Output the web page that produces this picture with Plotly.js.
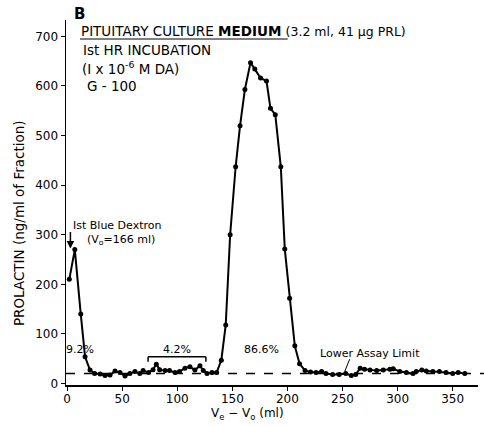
<!DOCTYPE html>
<html>
<head>
<meta charset="utf-8">
<script src="https://cdn.plot.ly/plotly-3.0.1.min.js"></script>
<style>html,body{margin:0;padding:0;background:#fff}#chart{width:484px;height:426px}</style>
</head>
<body>
<div id="chart"></div>
<script>
// Elution volume (Ve - Vo, ml)
const volume = [2, 7, 12.4, 16.3, 20.8, 25, 30, 34.4, 39, 43.5, 48, 52.6, 57, 61.6, 66, 69, 74, 78, 81, 84, 89, 93, 98, 102, 107, 111.5, 116, 120.6, 123.6, 127, 131.5, 135.7, 140, 144, 148, 153, 157, 161.4, 166.5, 170.4, 175.6, 181, 184.6, 189, 194, 197.6, 202, 206.7, 211, 216, 221, 226, 231, 235, 241, 247, 253, 258, 262, 266, 270, 275, 281, 287, 293, 296, 302, 308, 314, 317, 322, 326, 332, 338, 344, 350, 355, 361];
// Prolactin (ng/ml of fraction)
const prolactin = [210, 270, 140, 54, 27, 20, 19, 16, 17, 25, 22, 15, 20, 24, 20, 26, 22, 28, 39, 28, 26, 26, 22, 24, 31, 34, 27, 36, 26, 20, 22, 22, 47, 118, 300, 437, 520, 593, 647, 634, 616, 610, 555, 542, 437, 271, 172, 76, 40, 26, 23, 22, 24, 20, 18, 18, 20, 16, 18, 31, 29, 27, 26, 27, 29, 30, 24, 22, 20, 24, 27, 25, 24, 24, 22, 20, 22, 20];
const lowerAssayLimit = 20;
const xTicks = [0, 50, 100, 150, 200, 250, 300, 350];
const yTicks = [0, 100, 200, 300, 400, 500, 600, 700];

const F = 'DejaVu Sans, Verdana, sans-serif';
const data = [{
  x: volume, y: prolactin, type: 'scatter', mode: 'lines+markers',
  line: {color: '#000', width: 2}, marker: {color: '#000', size: 5},
  hoverinfo: 'skip'
}];

const ann = (x, y, text, opts) => Object.assign({x, y, xref: 'paper', yref: 'paper', text, showarrow: false,
  font: {family: F, size: 13.5, color: '#000'}, xanchor: 'left', yanchor: 'middle'}, opts || {});

// pixel helpers -> paper coords (plot area: left 66, top 20, width 412.5, height 365)
const px = v => (v - 66) / 412.5;
const py = v => (385 - v) / 365;

const layout = {
  width: 484, height: 426,
  margin: {l: 66, r: 5.5, t: 20, b: 41},
  paper_bgcolor: '#fff', plot_bgcolor: '#fff',
  showlegend: false,
  xaxis: {range: [-1, 373], tickvals: xTicks, ticks: 'outside', ticklen: 4, tickcolor: '#000',
    showline: true, linecolor: '#000', linewidth: 1.5, showgrid: false, zeroline: false,
    ticklabelstandoff: -2,
    tickfont: {family: F, size: 12, color: '#000'}},
  yaxis: {range: [-3, 733], tickvals: yTicks, ticks: 'outside', ticklen: 4, tickcolor: '#000',
    showline: true, linecolor: '#000', linewidth: 1.5, showgrid: false, zeroline: false,
    tickfont: {family: F, size: 12, color: '#000'}},
  shapes: [
    {type: 'line', xref: 'paper', x0: 0, x1: 1.02, yref: 'y', y0: lowerAssayLimit, y1: lowerAssayLimit,
      line: {color: '#000', width: 1.5, dash: 'dash'}},
    // 4.2% bracket
    {type: 'line', xref: 'x', yref: 'y', x0: 73.5, x1: 126, y0: 54, y1: 54, line: {color: '#000', width: 1.5}},
    {type: 'line', xref: 'x', yref: 'y', x0: 73.5, x1: 73.5, y0: 54, y1: 44, line: {color: '#000', width: 1.5}},
    {type: 'line', xref: 'x', yref: 'y', x0: 126, x1: 126, y0: 54, y1: 44, line: {color: '#000', width: 1.5}},
    // Lower assay limit leader
    {type: 'line', xref: 'x', yref: 'y', x0: 256.5, x1: 252, y0: 49, y1: 24, line: {color: '#000', width: 1}},
    // underline of heading
    {type: 'line', xref: 'paper', yref: 'paper', x0: px(80), x1: px(288), y0: py(39), y1: py(39), line: {color: '#000', width: 1}}
  ],
  annotations: [
    ann(px(72), py(14), '<b>B</b>', {font: {family: F, size: 15, color: '#000'}}),
    ann(px(79), py(31), 'PITUITARY CULTURE <b>MEDIUM</b> <span style="font-size:12.5px">(3.2 ml, 41 μg PRL)</span>', {font: {family: F, size: 13.5, color: '#000'}}),
    ann(px(81), py(50), 'Ist HR INCUBATION'),
    ann(px(80), py(68), '(I x 10<sup>-6</sup> M DA)'),
    ann(px(85), py(86), 'G - 100'),
    ann(px(71), py(225), 'Ist Blue Dextron', {font: {family: F, size: 11, color: '#000'}}),
    ann(px(85), py(240), '(V<sub>o</sub>=166 ml)', {font: {family: F, size: 11, color: '#000'}}),
    ann(px(80), py(349), '9.2%', {xanchor: 'center', font: {family: F, size: 11, color: '#000'}}),
    ann(px(177), py(349), '4.2%', {xanchor: 'center', font: {family: F, size: 11, color: '#000'}}),
    ann(px(262), py(349), '86.6%', {xanchor: 'center', font: {family: F, size: 11, color: '#000'}}),
    ann(px(318), py(353), 'Lower Assay Limit', {font: {family: F, size: 11, color: '#000'}}),
    {x: 3, y: 272, xref: 'x', yref: 'y', text: '', showarrow: true, arrowhead: 2, arrowsize: 1, arrowwidth: 1.5,
      arrowcolor: '#000', ax: 0, ay: -18},
    ann(px(19), py(223), 'PROLACTIN (ng/ml of Fraction)', {textangle: -90, xanchor: 'center', yanchor: 'middle',
      font: {family: F, size: 13.5, color: '#000'}}),
    ann(px(248), py(414), 'V<sub>e</sub> − V<sub>o</sub> (ml)', {xanchor: 'center', font: {family: F, size: 12, color: '#000'}})
  ]
};
Plotly.newPlot('chart', data, layout, {displayModeBar: false, staticPlot: true});
</script>
</body>
</html>
